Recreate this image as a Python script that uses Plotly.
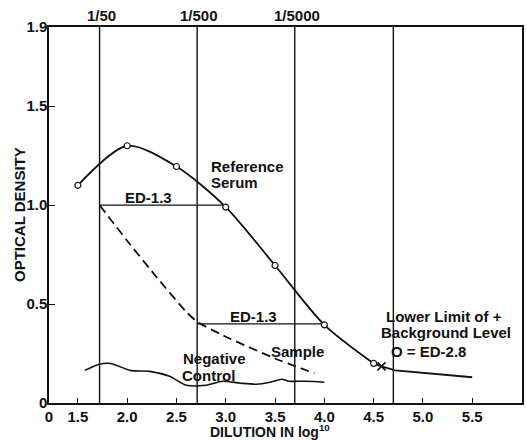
import plotly.graph_objects as go

# ---- data ----
ref_x = [1.5, 2.0, 2.5, 3.0, 3.5, 4.0, 4.5]
ref_y = [1.10, 1.30, 1.195, 0.99, 0.695, 0.395, 0.20]
tail_x = [4.5, 4.58, 4.72, 5.5]
tail_y = [0.20, 0.185, 0.165, 0.13]
limit_x = [4.58]
limit_y = [0.185]

sample_x = [1.72, 2.0, 2.3, 2.6, 2.71, 3.0, 3.5, 3.9]
sample_y = [1.0, 0.82, 0.635, 0.46, 0.41, 0.335, 0.225, 0.15]

neg_x = [1.57, 1.71, 1.83, 2.03, 2.23, 2.43, 2.6, 2.8, 2.97, 3.15, 3.31, 3.45, 3.57, 3.64, 3.81, 4.0]
neg_y = [0.165, 0.195, 0.20, 0.165, 0.16, 0.135, 0.09, 0.09, 0.11, 0.10, 0.095, 0.105, 0.12, 0.11, 0.11, 0.105]

ed_upper_x = [1.72, 3.0]
ed_upper_y = [1.0, 1.0]
ed_lower_x = [2.71, 4.0]
ed_lower_y = [0.40, 0.40]

dilution_pos = [1.72, 2.71, 3.70, 4.70]
dilution_labels = ["1/50", "1/500", "1/5000", ""]

x_tick_vals = [1.207, 1.5, 2.0, 2.5, 3.0, 3.5, 4.0, 4.5, 5.0, 5.5]
x_tick_text = ["0", "1.5", "2.0", "2.5", "3.0", "3.5", "4.0", "4.5", "5.0", "5.5"]
y_tick_vals = [0, 0.5, 1.0, 1.5, 1.9]
y_tick_text = ["0", "0.5", "1.0", "1.5", "1.9"]

x_title = "DILUTION IN log<sup>10</sup>"
y_title = "OPTICAL DENSITY"

INK = "#111111"
FONT = dict(family="Liberation Sans, Arial, sans-serif", size=15, color=INK, weight="bold")
TITLE_FONT = dict(FONT, size=14)

fig = go.Figure()

fig.add_trace(go.Scatter(x=ed_upper_x, y=ed_upper_y, mode="lines",
                         line=dict(color=INK, width=1.4), hoverinfo="skip"))
fig.add_trace(go.Scatter(x=ed_lower_x, y=ed_lower_y, mode="lines",
                         line=dict(color=INK, width=1.4), hoverinfo="skip"))
fig.add_trace(go.Scatter(x=sample_x, y=sample_y, mode="lines",
                         line=dict(color=INK, width=1.8, dash="9px,5px", shape="spline", smoothing=0.4)))
fig.add_trace(go.Scatter(x=neg_x, y=neg_y, mode="lines",
                         line=dict(color=INK, width=1.6, shape="spline", smoothing=0.8)))
fig.add_trace(go.Scatter(x=tail_x, y=tail_y, mode="lines",
                         line=dict(color=INK, width=1.8)))
fig.add_trace(go.Scatter(x=ref_x, y=ref_y, mode="lines+markers",
                         line=dict(color=INK, width=1.8, shape="spline", smoothing=0.8),
                         marker=dict(symbol="circle", size=6, color="white",
                                     line=dict(color=INK, width=1.2))))
fig.add_trace(go.Scatter(x=limit_x, y=limit_y, mode="markers",
                         marker=dict(symbol="x-thin", size=8, line=dict(color=INK, width=1.6))))

for xv in dilution_pos:
    fig.add_shape(type="line", x0=xv, x1=xv, y0=0, y1=1, xref="x", yref="paper",
                  line=dict(color=INK, width=1.4))

for xv, lab in zip(dilution_pos, dilution_labels):
    if lab:
        fig.add_annotation(x=xv, y=1, xref="x", yref="paper", text=lab, showarrow=False,
                           yanchor="bottom", xanchor="center", xshift=2, yshift=1, font=FONT)

notes = [
    ("Reference", 2.828, 1.195, "left"),
    ("Serum", 2.83, 1.115, "left"),
    ("ED-1.3", 2.22, 1.038, "center"),
    ("ED-1.3", 3.283, 0.435, "center"),
    ("Sample", 3.725, 0.262, "center"),
    ("Negative", 2.545, 0.224, "left"),
    ("Control", 2.54, 0.138, "left"),
    ("Lower Limit of +", 5.212, 0.437, "center"),
    ("Background Level", 5.232, 0.355, "center"),
    ("O = ED-2.8", 5.06, 0.259, "center"),
]
for txt, xv, yv, anc in notes:
    fig.add_annotation(x=xv, y=yv, text=txt, showarrow=False, xanchor=anc,
                       yanchor="middle", font=FONT)

# axis titles
fig.add_annotation(x=0.468, y=0, xref="paper", yref="paper", text=x_title, showarrow=False,
                   xanchor="center", yanchor="middle", yshift=-28, font=TITLE_FONT)
fig.add_annotation(x=0, y=0.5, xref="paper", yref="paper", text=y_title, showarrow=False,
                   textangle=-90, xanchor="center", yanchor="middle", xshift=-30, font=FONT)

fig.update_layout(
    width=527, height=440,
    margin=dict(l=49, r=3, t=27, b=37),
    paper_bgcolor="white", plot_bgcolor="white",
    showlegend=False,
    font=FONT,
    xaxis=dict(range=[1.207, 6.005], tickvals=x_tick_vals, ticktext=x_tick_text,
               ticks="inside", ticklen=5, tickcolor=INK, tickwidth=1.2,
               showline=True, linecolor=INK, linewidth=1.5, mirror=True,
               showgrid=False, zeroline=False, tickfont=FONT, ticklabelstandoff=-1),
    yaxis=dict(range=[0, 1.9], tickvals=y_tick_vals, ticktext=y_tick_text,
               ticks="inside", ticklen=6, tickcolor=INK, tickwidth=1.2,
               showline=True, linecolor=INK, linewidth=1.5, mirror=True,
               showgrid=False, zeroline=False, tickfont=FONT, ticklabelstandoff=-3),
)

fig.write_html("out.html", config={"displayModeBar": False},
               post_script="document.body.style.margin='0';document.body.style.overflow='hidden';")
